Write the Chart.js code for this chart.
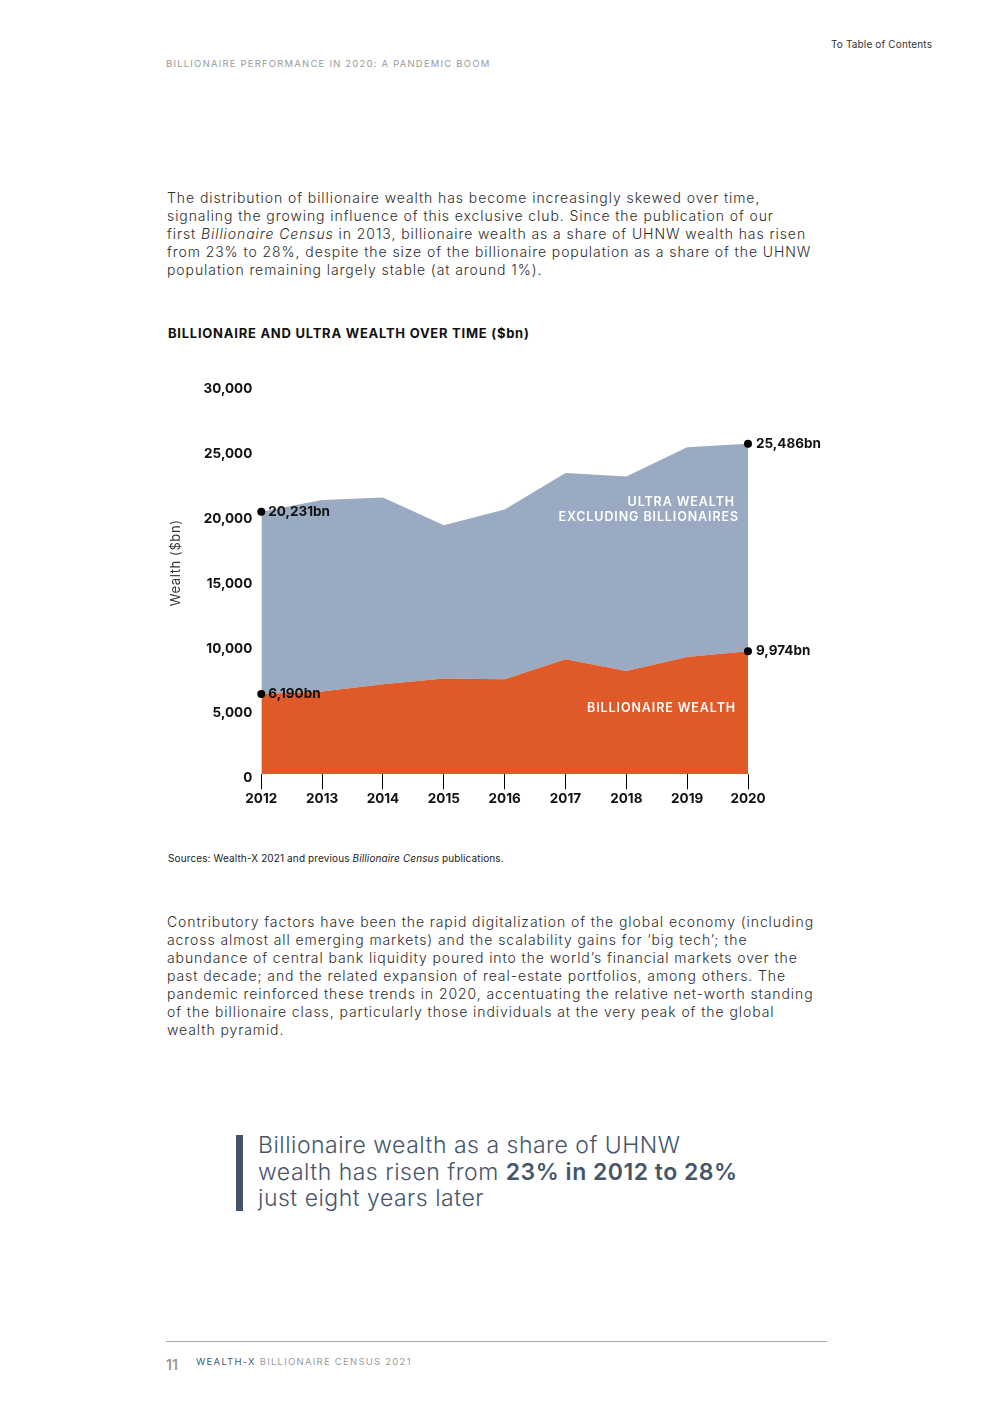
<!DOCTYPE html>
<html>
<head>
<meta charset="utf-8">
<script src="https://cdn.jsdelivr.net/npm/chart.js@4.4.0/dist/chart.umd.min.js"></script>
<style>
  body { margin: 0; width: 992px; height: 1403px; background: #fff; position: relative; font-family: Inter, "Noto Sans", sans-serif; color: #2b2b2b; }
  .abs { position: absolute; white-space: nowrap; }
  .toc { left: 831px; top: 38px; font-size: 10px; letter-spacing: 0.15px; color: #333; }
  .section { left: 166px; top: 58px; font-size: 9.5px; letter-spacing: 1.2px; color: #9a9a9a; }
  .para { left: 167px; font-size: 14px; line-height: 18px; letter-spacing: 0.92px; color: #2e2e2e; font-weight: 300; }
  .ctitle { left: 168px; top: 325px; font-size: 13px; font-weight: 700; color: #111; letter-spacing: 0.75px; }
  .src { left: 168px; top: 852px; font-size: 10px; letter-spacing: 0.12px; color: #222; }
  .quote { left: 258px; top: 1132px; font-size: 23px; line-height: 26.5px; color: #46566a; letter-spacing: 0.5px; font-weight: 300; }
  .quote b { font-weight: 600; }
  .qbar { left: 236px; top: 1135px; width: 7px; height: 76px; background: #44546a; }
  .rule { left: 166px; top: 1341px; width: 661px; height: 1px; background: #a8a8a8; }
  .pno { left: 166px; top: 1356px; font-size: 14px; color: #9a9a9a; font-weight: 600; }
  .foot { left: 196px; top: 1356px; font-size: 9.5px; letter-spacing: 1.25px; color: #9a9a9a; }
  .foot span { color: #4a5a6e; }
  #wrap { position: absolute; left: 160px; top: 368px; width: 680px; height: 447px; }
</style>
</head>
<body>
<div class="abs toc">To Table of Contents</div>
<div class="abs section">BILLIONAIRE PERFORMANCE IN 2020: A PANDEMIC BOOM</div>

<div class="abs para" style="top:189px">The distribution of billionaire wealth has become increasingly skewed over time,<br>signaling the growing influence of this exclusive club. Since the publication of our<br>first <i>Billionaire Census</i> in 2013, billionaire wealth as a share of UHNW wealth has risen<br>from 23% to 28%, despite the size of the billionaire population as a share of the UHNW<br>population remaining largely stable (at around 1%).</div>

<div class="abs ctitle">BILLIONAIRE AND ULTRA WEALTH OVER TIME ($bn)</div>

<div id="wrap"><canvas id="chart"></canvas></div>

<div class="abs src">Sources: Wealth-X 2021 and previous <i>Billionaire Census</i> publications.</div>

<div class="abs para" style="top:913px">Contributory factors have been the rapid digitalization of the global economy (including<br>across almost all emerging markets) and the scalability gains for ‘big tech’; the<br>abundance of central bank liquidity poured into the world’s financial markets over the<br>past decade; and the related expansion of real-estate portfolios, among others. The<br>pandemic reinforced these trends in 2020, accentuating the relative net-worth standing<br>of the billionaire class, particularly those individuals at the very peak of the global<br>wealth pyramid.</div>

<div class="abs qbar"></div>
<div class="abs quote">Billionaire wealth as a share of UHNW<br>wealth has risen from <b>23% in 2012 to 28%</b><br>just eight years later</div>

<div class="abs rule"></div>
<div class="abs pno">11</div>
<div class="abs foot"><span>WEALTH-X</span> BILLIONAIRE CENSUS 2021</div>

<script>
// years on the x axis
const years = ['2012', '2013', '2014', '2015', '2016', '2017', '2018', '2019', '2020'];
// total ultra wealth (incl. billionaires), $bn
const ultraWealth = [20231, 21150, 21330, 19200, 20410, 23230, 22950, 25200, 25486];
// billionaire wealth, $bn
const billionaireWealth = [6190, 6380, 6950, 7380, 7330, 8870, 7970, 9050, 9480];
// end point labels
const ultraLabels = ['20,231bn', '25,486bn'];
const billionaireLabels = ['6,190bn', '9,974bn'];
const yTicks = [0, 5000, 10000, 15000, 20000, 25000, 30000];

const FONT = 'Inter, "Noto Sans", sans-serif';
const lastIdx = years.length - 1;
const endDot = ctx => (ctx.dataIndex === 0 || ctx.dataIndex === lastIdx) ? 4 : 0;

// draws the bn labels next to end points, the area names and the y title
const labelPlugin = {
  id: 'labels',
  afterDatasetsDraw(chart) {
    const c = chart.ctx;
    const xs = chart.scales.x, ys = chart.scales.y;
    c.save();
    c.font = 'bold 13.5px ' + FONT;
    c.fillStyle = '#111';
    c.textBaseline = 'middle';
    c.textAlign = 'left';
    const sets = [[1, ultraLabels], [0, billionaireLabels]];
    sets.forEach(([di, labs]) => {
      const pts = chart.getDatasetMeta(di).data;
      c.fillText(labs[0], pts[0].x + 7, pts[0].y);
      c.fillText(labs[1], pts[lastIdx].x + 8, pts[lastIdx].y);
    });
    c.fillStyle = '#fff';
    c.textAlign = 'right';
    c.font = '600 12.5px ' + FONT;
    c.letterSpacing = '0.9px';
    const right = xs.getPixelForValue(lastIdx);
    c.fillText('ULTRA WEALTH', right - 13, ys.getPixelForValue(21000));
    c.fillText('EXCLUDING BILLIONAIRES', right - 9, ys.getPixelForValue(19780));
    c.fillText('BILLIONAIRE WEALTH', right - 12, ys.getPixelForValue(5100));

    // rotated axis title
    c.fillStyle = '#333';
    c.textAlign = 'center';
    c.font = '13px ' + FONT;
    c.letterSpacing = '0.6px';
    c.translate(xs.left - 85, ys.getPixelForValue(16300));
    c.rotate(-Math.PI / 2);
    c.fillText('Wealth ($bn)', 0, 0);
    c.restore();
  }
};

new Chart(document.getElementById('chart'), {
  type: 'line',
  data: {
    labels: years,
    datasets: [
      {
        label: 'Billionaire wealth',
        data: billionaireWealth,
        fill: 'origin',
        backgroundColor: '#df5a28',
        borderWidth: 0,
        pointRadius: endDot,
        pointBackgroundColor: '#000',
        pointBorderWidth: 0,
        clip: false
      },
      {
        label: 'Ultra wealth excluding billionaires',
        data: ultraWealth,
        fill: '-1',
        backgroundColor: '#9aaac3',
        borderWidth: 0,
        pointRadius: endDot,
        pointBackgroundColor: '#000',
        pointBorderWidth: 0,
        clip: false
      }
    ]
  },
  options: {
    responsive: true,
    maintainAspectRatio: false,
    animation: false,
    layout: { padding: { top: 4, right: 92, left: 0, bottom: 0 } },
    plugins: { legend: { display: false }, tooltip: { enabled: false } },
    scales: {
      x: {
        offset: false,
        border: { display: false },
        grid: { drawOnChartArea: false, drawTicks: true, tickLength: 15, color: '#000', lineWidth: 1 },
        ticks: { color: '#111', font: { family: FONT, size: 13.5, weight: 'bold' }, padding: 2, maxRotation: 0 },
        afterFit: a => { a.height = 40.7; }
      },
      y: {
        min: 0,
        max: 30000,
        border: { display: false },
        grid: { display: false, drawTicks: false },
        afterBuildTicks: a => { a.ticks = yTicks.map(v => ({ value: v })); },
        ticks: {
          color: '#111',
          padding: 9,
          labelOffset: 4,
          font: { family: FONT, size: 13.5, weight: 'bold' },
          callback: v => v.toLocaleString('en-US')
        },
        afterFit: a => { a.width = 101.3; }
      }
    }
  },
  plugins: [labelPlugin]
});
</script>
</body>
</html>
